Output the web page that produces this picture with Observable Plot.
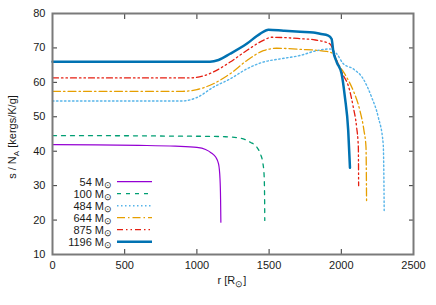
<!DOCTYPE html>
<html><head><meta charset="utf-8">
<script src="https://cdn.jsdelivr.net/npm/d3@7"></script>
<script src="https://cdn.jsdelivr.net/npm/@observablehq/plot@0.6"></script>
<style>
body{margin:0;background:#fff;font-family:"Liberation Sans",Arial,sans-serif;}
#wrap{position:relative;width:436px;height:305px;}
</style></head><body><div id="wrap"></div>
<script>
const xTicks = [0, 500, 1000, 1500, 2000, 2500];
const yTicks = [10, 20, 30, 40, 50, 60, 70, 80];
const masses = ["54", "100", "484", "644", "875", "1196"];
const colors = ["#9400d3", "#009e73", "#56b4e9", "#e69f00", "#e51e10", "#0072b2"];
const dashes = ["none", "4,5", "1.5,2.5", "8,3,1.5,3", "6,3,1.5,3,1.5,3", "none"];
const widths = [1.2, 1.3, 1.4, 1.3, 1.3, 2.5];

const r54 = [0, 300, 600, 850, 1000, 1060, 1100, 1130, 1150, 1160, 1164, 1166];
const s54 = [41.9, 41.85, 41.7, 41.45, 41.1, 40.5, 39.5, 38.3, 36.3, 32, 26, 19.4];

const r100 = [0, 400, 800, 1100, 1200, 1300, 1370, 1415, 1440, 1455, 1465, 1469, 1470];
const s100 = [44.5, 44.5, 44.4, 44.3, 44.2, 43.8, 42.6, 41.2, 39.2, 37.0, 33.4, 26, 19.9];

const r484 = [0, 500, 900, 1000, 1114, 1230, 1345, 1460, 1575, 1714, 1829, 1921, 1968, 2014, 2083, 2152, 2210, 2256, 2290, 2295, 2297];
const s484 = [54.6, 54.6, 54.6, 55.6, 58.6, 61.0, 63.9, 65.9, 66.8, 67.8, 69.2, 69.7, 68.3, 65.4, 63.9, 61.0, 55.7, 49.9, 42.2, 32, 22.6];

const r644 = [0, 500, 900, 1000, 1114, 1230, 1345, 1460, 1552, 1714, 1898, 1944, 1979, 2037, 2083, 2129, 2157, 2171, 2175];
const s644 = [57.4, 57.4, 57.4, 57.9, 59.6, 62.5, 66.3, 69.2, 69.9, 69.6, 69.0, 68.3, 65.4, 61.5, 57.6, 51.8, 46.0, 41.2, 25.2];

const r875 = [0, 500, 950, 1040, 1114, 1230, 1345, 1460, 1518, 1714, 1806, 1921, 1968, 2014, 2048, 2083, 2106, 2118, 2120];
const s875 = [61.3, 61.3, 61.3, 61.8, 63.0, 65.9, 69.25, 72.2, 73.1, 72.7, 72.4, 71.2, 66.3, 62.0, 59.1, 52.8, 47, 41.2, 30.0];

const r1196 = [0, 500, 1000, 1091, 1150, 1230, 1345, 1437, 1495, 1600, 1714, 1806, 1852, 1910, 1933, 1944, 1968, 2002, 2025, 2048, 2060];
const s1196 = [66.0, 66.0, 66.0, 66.0, 66.5, 68.3, 71.2, 74.1, 75.3, 75.0, 74.7, 74.5, 74.1, 73.6, 72.6, 69.2, 65.9, 62.5, 55.7, 46.0, 35.2];

const rs = [r54, r100, r484, r644, r875, r1196];
const ss = [s54, s100, s484, s644, s875, s1196];

const lineMarks = rs.map((r, i) => Plot.line(
  r.map((v, j) => ({r: v, s: ss[i][j]})),
  {x: "r", y: "s", stroke: colors[i], strokeWidth: widths[i],
   strokeDasharray: dashes[i] === "none" ? null : dashes[i], curve: "monotone-x"}
));

const fmt = d => String(d);

const plot = Plot.plot({
  width: 436, height: 305,
  marginLeft: 52, marginRight: 23, marginTop: 13, marginBottom: 51,
  style: {fontFamily: "'Liberation Sans', Arial, sans-serif", fontSize: "11px", color: "#1a1a1a", background: "#fff"},
  x: {domain: [0, 2500]},
  y: {domain: [10, 80]},
  marks: [
    ...lineMarks,
    Plot.axisX(xTicks, {anchor: "bottom", tickSize: 0, tickPadding: 7, label: null, fontSize: 11, tickFormat: fmt}),
    Plot.axisY(yTicks, {anchor: "left", tickSize: 0, tickPadding: 7, label: null, fontSize: 11, tickFormat: fmt}),
    Plot.axisX(xTicks, {anchor: "bottom", tickSize: -5, fill: "none", label: null, stroke: "#333"}),
    Plot.axisX(xTicks, {anchor: "top", tickSize: -5, fill: "none", label: null, stroke: "#333"}),
    Plot.axisY(yTicks, {anchor: "left", tickSize: -5, fill: "none", label: null, stroke: "#333"}),
    Plot.axisY(yTicks, {anchor: "right", tickSize: -5, fill: "none", label: null, stroke: "#333"}),
    Plot.frame({stroke: "#7a7a7a", strokeWidth: 2})
  ]
});
document.getElementById("wrap").appendChild(plot);

const svg = d3.select(plot);
const ff = "'Liberation Sans', Arial, sans-serif";
// y label
const yl = svg.append("text").attr("transform", "translate(16,137) rotate(-90)")
  .attr("text-anchor", "middle").attr("font-family", ff).attr("font-size", 11).attr("fill", "#1a1a1a");
yl.append("tspan").text("s / N");
yl.append("tspan").attr("font-size", 8).attr("dy", 3).text("A");
yl.append("tspan").attr("dy", -3).text(" [kergs/K/g]");
// x label
const xl = svg.append("text").attr("x", 232).attr("y", 284)
  .attr("text-anchor", "middle").attr("font-family", ff).attr("font-size", 11).attr("fill", "#1a1a1a");
xl.append("tspan").text("r [R");
xl.append("tspan").attr("font-size", 9).attr("dy", 3).text("\u2299");
xl.append("tspan").attr("dy", -3).text("]");
// legend
const lg = svg.append("g");
masses.forEach((m, i) => {
  const cy = 181.7 + 12 * i;
  const t = lg.append("text").attr("x", 112).attr("y", cy + 4).attr("text-anchor", "end")
    .attr("font-family", ff).attr("font-size", 11).attr("fill", "#1a1a1a");
  t.append("tspan").text(m + " M");
  t.append("tspan").attr("font-size", 9).attr("dy", 2.5).text("\u2299");
  lg.append("line").attr("x1", 117).attr("x2", 152).attr("y1", cy).attr("y2", cy)
    .attr("stroke", colors[i]).attr("stroke-width", widths[i])
    .attr("stroke-dasharray", dashes[i]);
});
</script></body></html>
